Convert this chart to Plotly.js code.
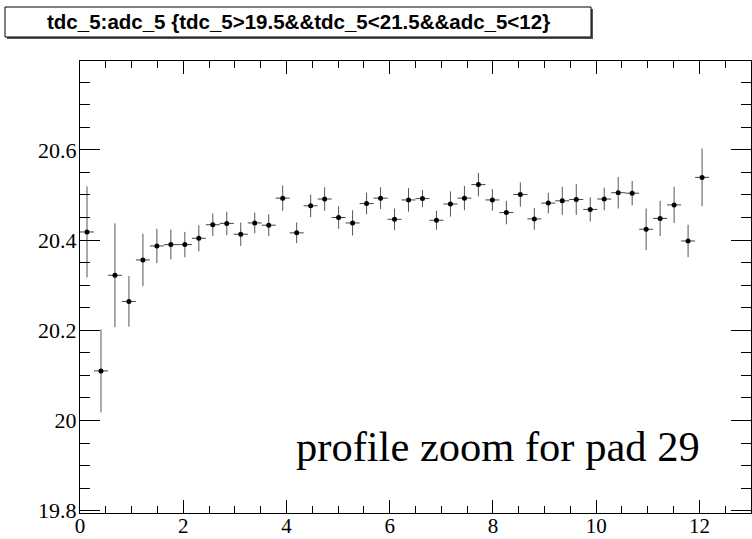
<!DOCTYPE html>
<html>
<head>
<meta charset="utf-8">
<script src="https://cdn.plot.ly/plotly-3.0.1.min.js"></script>
<style>
  html, body { margin: 0; padding: 0; background: #fff; }
  #chart { width: 752px; height: 539px; }
</style>
</head>
<body>
<div id="chart"></div>
<script>
// Profile of tdc_5 versus adc_5: 48 bins over [0, 13], first 45 bins filled
const nBins = 48;
const xMin = 0;
const xMax = 13;

// Mean tdc_5 per adc_5 bin
const binMeans = [
  20.418, 20.110, 20.322, 20.264, 20.356, 20.387, 20.390, 20.390, 20.404,
  20.434, 20.437, 20.413, 20.438, 20.433, 20.493, 20.416, 20.476, 20.491,
  20.450, 20.438, 20.481, 20.493, 20.446, 20.489, 20.492, 20.444, 20.480,
  20.493, 20.523, 20.489, 20.461, 20.501, 20.447, 20.482, 20.487, 20.490,
  20.468, 20.491, 20.505, 20.504, 20.424, 20.448, 20.478, 20.398, 20.539
];

// Error on the mean per bin
const binErrors = [
  0.101, 0.092, 0.115, 0.056, 0.058, 0.038, 0.033, 0.028, 0.029,
  0.025, 0.026, 0.026, 0.023, 0.024, 0.028, 0.023, 0.025, 0.026,
  0.025, 0.028, 0.024, 0.024, 0.024, 0.026, 0.019, 0.021, 0.028,
  0.027, 0.026, 0.024, 0.026, 0.027, 0.024, 0.023, 0.031, 0.034,
  0.027, 0.025, 0.035, 0.027, 0.046, 0.039, 0.040, 0.036, 0.064
];

const titleText = 'tdc_5:adc_5 {tdc_5>19.5&&tdc_5<21.5&&adc_5<12}';
const padLabel = 'profile zoom for pad 29';

// Bin centres of the profile histogram
const binWidth = (xMax - xMin) / nBins;
const binCentres = binMeans.map((_, i) => xMin + (i + 0.5) * binWidth);

// Frame geometry (pixels) and helpers to convert to paper coordinates
const W = 752, H = 539;
const frame = { l: 80, r: 751, t: 61, b: 513 };
const px2x = p => (p - frame.l) / (frame.r - frame.l);
const px2y = p => (frame.b - p) / (frame.b - frame.t);

const serif = "'Liberation Serif', 'Times New Roman', 'DejaVu Serif', 'Noto Serif', Times, serif";
const sans = "'Liberation Sans', Arial, Helvetica, sans-serif";

const trace = {
  type: 'scatter',
  mode: 'markers',
  x: binCentres,
  y: binMeans,
  marker: { symbol: 'circle', size: 5, color: '#000' },
  error_y: { type: 'data', array: binErrors, visible: true, width: 0, thickness: 1, color: '#555' },
  error_x: { type: 'constant', value: binWidth / 2, visible: true, width: 0, thickness: 1, color: '#444' },
  hoverinfo: 'x+y'
};

const layout = {
  width: W,
  height: H,
  margin: { l: frame.l, r: W - frame.r, t: frame.t, b: H - frame.b, pad: 0 },
  paper_bgcolor: '#fff',
  plot_bgcolor: '#fff',
  showlegend: false,
  font: { family: serif },
  xaxis: {
    range: [xMin, xMax],
    tickmode: 'linear', tick0: 0, dtick: 2,
    ticks: 'inside', ticklen: 13, tickwidth: 1, tickcolor: '#000',
    minor: { tickmode: 'linear', tick0: 0, dtick: 0.5, ticks: 'inside', ticklen: 7, tickwidth: 1, tickcolor: '#000' },
    showline: true, linecolor: '#000', linewidth: 1, mirror: 'allticks',
    showgrid: false, zeroline: false,
    ticklabelstandoff: -6,
    tickfont: { family: serif, size: 21, color: '#000' }
  },
  yaxis: {
    range: [19.795, 20.797],
    tickmode: 'linear', tick0: 19.8, dtick: 0.2,
    ticks: 'inside', ticklen: 20, tickwidth: 1, tickcolor: '#000',
    minor: { tickmode: 'linear', tick0: 19.8, dtick: 0.05, ticks: 'inside', ticklen: 10, tickwidth: 1, tickcolor: '#000' },
    showline: true, linecolor: '#000', linewidth: 1, mirror: 'allticks',
    showgrid: false, zeroline: false,
    ticklabelstandoff: -2,
    tickfont: { family: serif, size: 22, color: '#000' }
  },
  shapes: [
    // drop shadow of the title box
    { type: 'rect', xref: 'paper', yref: 'paper',
      x0: px2x(7), x1: px2x(593), y0: px2y(39), y1: px2y(9),
      fillcolor: '#555', line: { width: 0 }, layer: 'above' },
    // title box
    { type: 'rect', xref: 'paper', yref: 'paper',
      x0: px2x(5), x1: px2x(591), y0: px2y(37), y1: px2y(7),
      fillcolor: '#fff', line: { width: 1, color: '#000' }, layer: 'above' }
  ],
  annotations: [
    { text: titleText, xref: 'paper', yref: 'paper',
      x: px2x(298), y: px2y(22), xanchor: 'center', yanchor: 'middle',
      showarrow: false,
      font: { family: sans, size: 20.5, color: '#000', weight: 'bold' } },
    { text: padLabel, xref: 'paper', yref: 'paper',
      x: px2x(294), y: px2y(446), xanchor: 'left', yanchor: 'middle',
      showarrow: false,
      font: { family: serif, size: 42.5, color: '#000' } }
  ]
};

Plotly.newPlot('chart', [trace], layout, { displayModeBar: false, staticPlot: true });
</script>
</body>
</html>
